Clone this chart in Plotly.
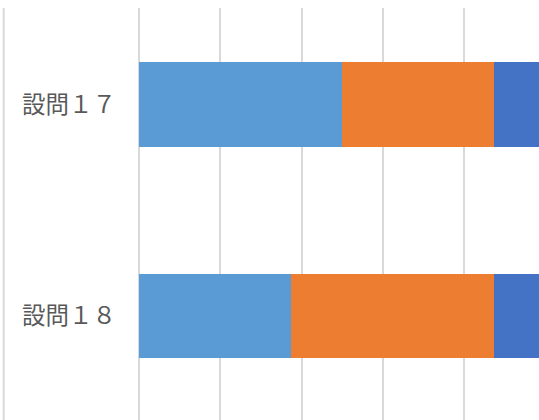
import plotly.graph_objects as go

categories = ["設問１７", "設問１８"]
series_names = ["系列1", "系列2", "系列3"]
series1 = [25.0, 18.75]
series2 = [18.75, 25.0]
series3 = [25.0, 25.0]
colors = ["#5B9BD5", "#ED7D31", "#4472C4"]
x_ticks = [0, 10, 20, 30, 40]

fig = go.Figure()
for name, vals, col in zip(series_names, [series1, series2, series3], colors):
    fig.add_trace(go.Bar(
        y=categories, x=vals, name=name, orientation="h",
        marker=dict(color=col, line=dict(width=0)),
        width=0.4,
    ))

W, H = 539, 420
left, top = 139, 8
px_per_unit = 81.25 / 10
xmax = (W - left) / px_per_unit
band = 211.5
c0, c1 = 104.5, 316.0
y_top = 0 - (c0 - top) / band
y_bot = 1 + (H - c1) / band

fig.update_layout(
    width=W, height=H,
    margin=dict(l=left, r=0, t=top, b=0, pad=0),
    barmode="stack",
    showlegend=False,
    plot_bgcolor="white",
    paper_bgcolor="white",
    xaxis=dict(range=[0, xmax], tickvals=x_ticks, showticklabels=False,
               showgrid=True, gridcolor="#D9D9D9", gridwidth=2,
               zeroline=True, zerolinecolor="#D9D9D9", zerolinewidth=2,
               showline=False),
    yaxis=dict(type="category", range=[y_bot, y_top],
               showgrid=False, zeroline=False, showline=False,
               ticks="", ticklabelstandoff=22,
               tickfont=dict(family="Noto Sans CJK JP", size=23.5, color="#595959")),
    shapes=[dict(type="line", xref="paper", yref="paper",
                 x0=(3.7 - left) / (W - left), x1=(3.7 - left) / (W - left),
                 y0=0, y1=1, line=dict(color="#D9D9D9", width=2))],
)

fig.write_html("out.html")
